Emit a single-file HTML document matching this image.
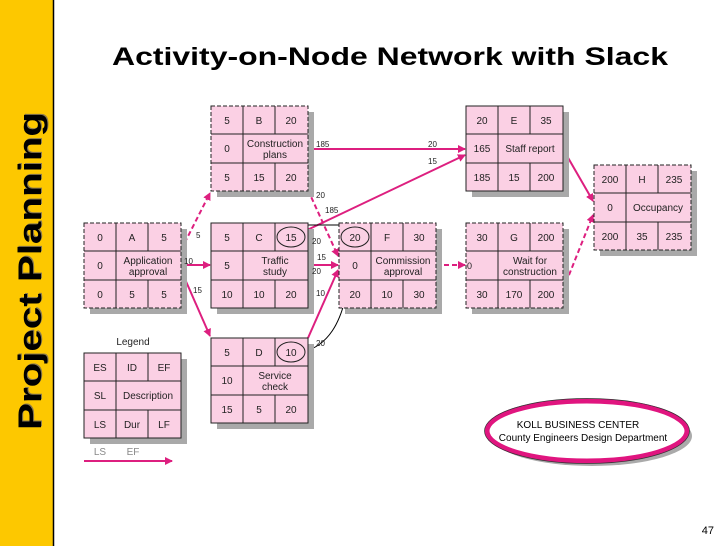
<!DOCTYPE html>
<html><head><style>
body{margin:0;width:728px;height:546px;background:#fff;overflow:hidden;font-family:"Liberation Sans",sans-serif}
</style></head><body>
<svg width="728" height="546" xmlns="http://www.w3.org/2000/svg" font-family="Liberation Sans, sans-serif">
<defs>
<marker id="ah" markerWidth="8" markerHeight="8" refX="7" refY="4" orient="auto" markerUnits="userSpaceOnUse"><path d="M0,0 L8,4 L0,8 Z" fill="#dd1f7f"/></marker>
<marker id="bh" markerWidth="6" markerHeight="6" refX="5" refY="3" orient="auto" markerUnits="userSpaceOnUse"><path d="M0,0 L6,3 L0,6 Z" fill="#000"/></marker>
<g id="grid">
<rect x="6" y="6" width="97" height="85" fill="#a9a9a9"/>
<rect x="0" y="0" width="97" height="85" fill="#fbd0e4"/>
<g stroke="#222" stroke-width="1">
<line x1="0" y1="28" x2="97" y2="28"/><line x1="0" y1="57" x2="97" y2="57"/>
<line x1="32" y1="0" x2="32" y2="85"/><line x1="64" y1="0" x2="64" y2="28"/><line x1="64" y1="57" x2="64" y2="85"/>
</g></g>
</defs>
<rect x="0" y="0" width="53" height="546" fill="#fdc800"/>
<line x1="53.5" y1="0" x2="53.5" y2="546" stroke="#000" stroke-width="1.5"/>
<text transform="translate(41,271) rotate(-90)" x="1" y="1" text-anchor="middle" font-size="32" font-weight="bold" fill="#8a7a50" textLength="318" lengthAdjust="spacingAndGlyphs">Project Planning</text>
<text transform="translate(41,271) rotate(-90)" text-anchor="middle" font-size="32" font-weight="bold" fill="#000" textLength="318" lengthAdjust="spacingAndGlyphs">Project Planning</text>
<text x="390" y="65" text-anchor="middle" font-size="25" font-weight="bold" textLength="556" lengthAdjust="spacingAndGlyphs">Activity-on-Node Network with Slack</text>

<g stroke="#dd1f7f" stroke-width="2" fill="none">
<line x1="181" y1="250" x2="210" y2="193" stroke-dasharray="5,3" marker-end="url(#ah)"/>
<line x1="181" y1="265" x2="210" y2="265" marker-end="url(#ah)"/>
<line x1="181" y1="270" x2="210" y2="336" marker-end="url(#ah)"/>
<line x1="308" y1="149" x2="465" y2="149" marker-end="url(#ah)"/>
<line x1="308" y1="190" x2="338" y2="256" stroke-dasharray="5,3" marker-end="url(#ah)"/>
<line x1="303" y1="232" x2="465" y2="155" marker-end="url(#ah)"/>
<line x1="308" y1="265" x2="338" y2="265" marker-end="url(#ah)"/>
<line x1="308" y1="338" x2="338" y2="270" marker-end="url(#ah)"/>
<line x1="436" y1="265" x2="465" y2="265" stroke-dasharray="5,3" marker-end="url(#ah)"/>
<line x1="563" y1="149" x2="593" y2="201" marker-end="url(#ah)"/>
<line x1="563" y1="290" x2="593" y2="215" stroke-dasharray="5,3" marker-end="url(#ah)"/>
<line x1="84" y1="461" x2="172" y2="461" marker-end="url(#ah)"/>
</g>
<g stroke="#000" stroke-width="1" fill="none">
<line x1="308" y1="225" x2="351" y2="225" marker-end="url(#bh)"/>
<path d="M303,352 C330,345 340,320 345,300 L355,250" marker-end="url(#bh)"/>
</g>

<g font-size="10" text-anchor="middle" fill="#222">
<g transform="translate(84,223)"><use href="#grid"/><rect width="97" height="85" fill="none" stroke="#222" stroke-dasharray="4,2"/>
<text x="16" y="18">0</text><text x="48" y="18">A</text><text x="80" y="18">5</text><text x="16" y="46">0</text><text x="64" y="41">Application</text><text x="64" y="52">approval</text><text x="16" y="75">0</text><text x="48" y="75">5</text><text x="80" y="75">5</text></g>
<g transform="translate(211,106)"><use href="#grid"/><rect width="97" height="85" fill="none" stroke="#222" stroke-dasharray="4,2"/>
<text x="16" y="18">5</text><text x="48" y="18">B</text><text x="80" y="18">20</text><text x="16" y="46">0</text><text x="64" y="41">Construction</text><text x="64" y="52">plans</text><text x="16" y="75">5</text><text x="48" y="75">15</text><text x="80" y="75">20</text></g>
<g transform="translate(211,223)"><use href="#grid"/><rect width="97" height="85" fill="none" stroke="#222"/>
<ellipse cx="80" cy="14" rx="14" ry="10" fill="none" stroke="#222"/>
<text x="16" y="18">5</text><text x="48" y="18">C</text><text x="80" y="18">15</text><text x="16" y="46">5</text><text x="64" y="41">Traffic</text><text x="64" y="52">study</text><text x="16" y="75">10</text><text x="48" y="75">10</text><text x="80" y="75">20</text></g>
<g transform="translate(211,338)"><use href="#grid"/><rect width="97" height="85" fill="none" stroke="#222"/>
<ellipse cx="80" cy="14" rx="14" ry="10" fill="none" stroke="#222"/>
<text x="16" y="18">5</text><text x="48" y="18">D</text><text x="80" y="18">10</text><text x="16" y="46">10</text><text x="64" y="41">Service</text><text x="64" y="52">check</text><text x="16" y="75">15</text><text x="48" y="75">5</text><text x="80" y="75">20</text></g>
<g transform="translate(339,223)"><use href="#grid"/><rect width="97" height="85" fill="none" stroke="#222" stroke-dasharray="4,2"/>
<ellipse cx="16" cy="14" rx="14" ry="10" fill="none" stroke="#222"/>
<text x="16" y="18">20</text><text x="48" y="18">F</text><text x="80" y="18">30</text><text x="16" y="46">0</text><text x="64" y="41">Commission</text><text x="64" y="52">approval</text><text x="16" y="75">20</text><text x="48" y="75">10</text><text x="80" y="75">30</text></g>
<g transform="translate(466,106)"><use href="#grid"/><rect width="97" height="85" fill="none" stroke="#222"/>
<text x="16" y="18">20</text><text x="48" y="18">E</text><text x="80" y="18">35</text><text x="16" y="46">165</text><text x="64" y="46">Staff report</text><text x="16" y="75">185</text><text x="48" y="75">15</text><text x="80" y="75">200</text></g>
<g transform="translate(466,223)"><use href="#grid"/><rect width="97" height="85" fill="none" stroke="#222" stroke-dasharray="4,2"/>
<text x="16" y="18">30</text><text x="48" y="18">G</text><text x="80" y="18">200</text><text x="64" y="41">Wait for</text><text x="64" y="52">construction</text><text x="16" y="75">30</text><text x="48" y="75">170</text><text x="80" y="75">200</text></g>
<g transform="translate(594,165)"><use href="#grid"/><rect width="97" height="85" fill="none" stroke="#222" stroke-dasharray="4,2"/>
<text x="16" y="18">200</text><text x="48" y="18">H</text><text x="80" y="18">235</text><text x="16" y="46">0</text><text x="64" y="46">Occupancy</text><text x="16" y="75">200</text><text x="48" y="75">35</text><text x="80" y="75">235</text></g>
<g transform="translate(84,353)"><use href="#grid"/><rect width="97" height="85" fill="none" stroke="#222"/>
<text x="16" y="18">ES</text><text x="48" y="18">ID</text><text x="80" y="18">EF</text><text x="16" y="46">SL</text><text x="64" y="46">Description</text><text x="16" y="75">LS</text><text x="48" y="75">Dur</text><text x="80" y="75">LF</text></g>
<text x="133" y="345">Legend</text>
<text x="100" y="455" fill="#888">LS</text><text x="133" y="455" fill="#888">EF</text>
</g>

<g font-size="8" fill="#222">
<text x="196" y="238">5</text><text x="184" y="264">10</text><text x="193" y="293">15</text>
<text x="316" y="147">185</text><text x="428" y="147">20</text><text x="428" y="164">15</text>
<text x="316" y="198">20</text><text x="325" y="213">185</text>
<text x="312" y="244">20</text><text x="317" y="260">15</text><text x="312" y="274">20</text><text x="316" y="296">10</text>
<text x="316" y="346">20</text>
<text x="467" y="269" font-size="9">0</text>
</g>

<ellipse cx="592" cy="436" rx="100" ry="30" fill="#aaa"/>
<ellipse cx="587" cy="431" rx="100" ry="30" fill="#fff" stroke="#e0157f" stroke-width="5"/>
<ellipse cx="587" cy="431" rx="102.5" ry="32.5" fill="none" stroke="#333" stroke-width="0.7"/>
<text x="578" y="428" font-size="10" text-anchor="middle">KOLL BUSINESS CENTER</text>
<text x="583" y="441" font-size="10" text-anchor="middle">County Engineers Design Department</text>
<text x="714" y="534" font-size="11" text-anchor="end">47</text>
</svg>
</body></html>
